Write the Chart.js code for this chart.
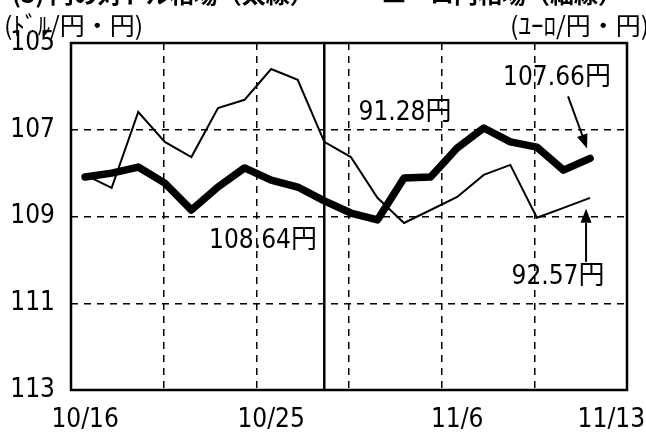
<!DOCTYPE html>
<html>
<head>
<meta charset="utf-8">
<script src="https://cdn.jsdelivr.net/npm/chart.js@4"></script>
<style>
  html, body { margin: 0; padding: 0; background: #fff; }
  #wrap { width: 646px; height: 434px; }
</style>
</head>
<body>
<div id="wrap"><canvas id="chart" width="646" height="434"></canvas></div>
<script>
// trading days 10/16 - 11/13
const dates = ['10/16','10/17','10/18','10/19','10/20','10/23','10/24','10/25','10/26','10/27',
               '10/30','10/31','11/1','11/2','11/6','11/7','11/8','11/9','11/10','11/13'];
// yen per dollar (thick line, left axis)
const usdJpy = [108.09,108.00,107.86,108.23,108.85,108.32,107.88,108.16,108.32,108.64,
                108.92,109.08,108.11,108.09,107.42,106.96,107.28,107.40,107.93,107.66];
// yen per euro (thin line, right axis)
const eurJpy = [92.04,92.34,90.59,91.28,91.63,90.50,90.31,89.60,89.85,91.28,
                91.63,92.57,93.15,92.85,92.55,92.04,91.81,93.03,92.80,92.57];

const xTickLabels = ['10/16','10/25','11/6','11/13'];
const xTickPos = [0, 7, 14, 19.8];
const yTicks = [105, 107, 109, 111, 113];
const y2Range = [89, 97];
const refIndex = 9; // reference date (solid line)

const xMin = -0.53, xMax = 20.39;
const numFont = "'Liberation Sans Narrow','DejaVu Sans Condensed','Noto Sans CJK JP',sans-serif";
const jpFont = "'Noto Sans CJK JP',sans-serif";

const points = arr => arr.map((v, i) => ({ x: i, y: v }));

const decor = {
    id: 'decor',
    beforeDatasetsDraw(chart) {
        const { ctx, chartArea: a, scales } = chart;
        const xr = scales.x.getPixelForValue(refIndex);
        ctx.save();
        ctx.strokeStyle = '#000';
        ctx.lineWidth = 2.5;
        ctx.beginPath();
        ctx.moveTo(xr, a.top);
        ctx.lineTo(xr, a.bottom);
        ctx.stroke();
        ctx.restore();
    },
    afterDraw(chart) {
        const { ctx, chartArea: a, scales } = chart;
        ctx.save();
        // frame
        ctx.strokeStyle = '#000';
        ctx.lineWidth = 2.5;
        ctx.strokeRect(a.left, a.top, a.right - a.left, a.bottom - a.top);

        ctx.fillStyle = '#000';
        ctx.textBaseline = 'middle';

        // clipped title line at top
        ctx.font = 'bold 24px ' + jpFont;
        ctx.textAlign = 'left';
        ctx.fillText('(3) 円の対ドル相場（太線）', 12, -6);
        ctx.textAlign = 'right';
        ctx.fillText('ユーロ円相場（細線）', 622, -6);

        // unit headers
        ctx.font = '25px ' + jpFont;
        ctx.textAlign = 'left';
        ctx.fillText('(ﾄﾞﾙ/円・円)', 4, 25);
        ctx.fillText('(ﾕｰﾛ/円・円)', 510, 25);

        // value notes
        const last = dates.length - 1;
        const px = scales.x.getPixelForValue(last);
        const pyD = scales.y.getPixelForValue(usdJpy[last]);
        const pyE = scales.y2.getPixelForValue(eurJpy[last]);

        ctx.font = '26px ' + numFont;
        ctx.textAlign = 'center';
        ctx.fillText(usdJpy[refIndex].toFixed(2) + '円', 263, 241);
        ctx.fillText(eurJpy[refIndex].toFixed(2) + '円', 405, 113);
        ctx.fillText(usdJpy[last].toFixed(2) + '円', 557, 78);
        ctx.fillText(eurJpy[last].toFixed(2) + '円', 558, 277);

        arrow(ctx, px - 22, pyD - 62, px - 3, pyD - 10);
        arrow(ctx, px - 4, pyE + 64, px - 4, pyE + 11);
        ctx.restore();
    }
};

function arrow(ctx, x1, y1, x2, y2) {
    const ang = Math.atan2(y2 - y1, x2 - x1);
    const len = 14, half = 5.5;
    const bx = x2 - len * Math.cos(ang), by = y2 - len * Math.sin(ang);
    ctx.lineWidth = 2;
    ctx.beginPath();
    ctx.moveTo(x1, y1);
    ctx.lineTo(bx, by);
    ctx.stroke();
    ctx.beginPath();
    ctx.moveTo(x2, y2);
    ctx.lineTo(bx + half * Math.sin(ang), by - half * Math.cos(ang));
    ctx.lineTo(bx - half * Math.sin(ang), by + half * Math.cos(ang));
    ctx.closePath();
    ctx.fill();
}

new Chart(document.getElementById('chart'), {
    type: 'line',
    data: {
        datasets: [{
            label: 'ドル',
            data: points(usdJpy),
            yAxisID: 'y',
            borderColor: '#000',
            borderWidth: 7.5,
            borderJoinStyle: 'round',
            borderCapStyle: 'round',
            pointRadius: 0,
            tension: 0
        }, {
            label: 'ユーロ',
            data: points(eurJpy),
            yAxisID: 'y2',
            borderColor: '#000',
            borderWidth: 2,
            pointRadius: 0,
            tension: 0
        }]
    },
    options: {
        responsive: false,
        animation: false,
        layout: { padding: { top: 43, right: 19, left: 0, bottom: 0 } },
        plugins: { legend: { display: false }, tooltip: { enabled: false } },
        scales: {
            x: {
                type: 'linear', min: xMin, max: xMax,
                afterBuildTicks: s => {
                    s.ticks = [1, 2, 3, 4, 5].map(k => ({ value: xMin + k * (xMax - xMin) / 6 }));
                },
                ticks: { display: false },
                grid: { color: '#000', lineWidth: 1.5, drawTicks: false },
                border: { display: false, dash: [7, 6] },
                afterFit: s => { s.height = 0; s.paddingLeft = 0; s.paddingRight = 0; }
            },
            xd: {
                type: 'linear', position: 'bottom', min: xMin, max: xMax,
                afterBuildTicks: s => { s.ticks = xTickPos.map(v => ({ value: v })); },
                ticks: {
                    callback: (v, i) => xTickLabels[i],
                    autoSkip: false, maxRotation: 0, padding: 15,
                    color: '#000', font: { family: numFont, size: 26 }
                },
                grid: { display: false, drawTicks: false },
                border: { display: false },
                afterFit: s => { s.height = 44; s.paddingLeft = 0; s.paddingRight = 0; }
            },
            y: {
                min: yTicks[0], max: yTicks[yTicks.length - 1], reverse: true,
                afterBuildTicks: s => { s.ticks = yTicks.map(v => ({ value: v })); },
                ticks: { padding: 16, color: '#000', font: { family: numFont, size: 26 } },
                grid: { color: '#000', lineWidth: 1.5, drawTicks: false },
                border: { display: false, dash: [7, 6] },
                afterFit: s => { s.width = 71; }
            },
            y2: {
                display: false, position: 'right',
                min: y2Range[0], max: y2Range[1], reverse: true
            }
        }
    },
    plugins: [decor]
});
</script>
</body>
</html>
